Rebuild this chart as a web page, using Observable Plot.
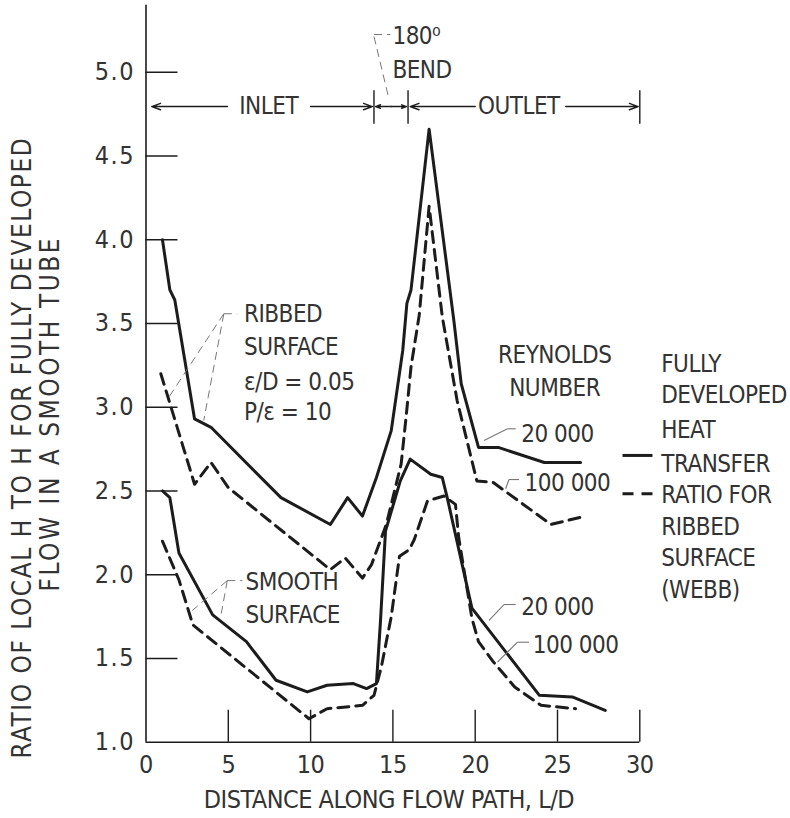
<!DOCTYPE html>
<html><head><meta charset="utf-8">
<script src="https://cdn.jsdelivr.net/npm/d3@7"></script>
<script src="https://cdn.jsdelivr.net/npm/@observablehq/plot@0.6"></script>
<style>
body{margin:0;background:#fff;}
#chart svg{display:block;}
#chart svg text{letter-spacing:-0.5px;}
</style></head><body><div id="chart"></div>
<script>
const FONT = '"Liberation Sans Narrow","DejaVu Sans Condensed","Arial Narrow",sans-serif';
const INK = "#1c1c1c";
const TXT = "#333";

// ---- data series (L/D, ratio) ----
const ribbed20kX = [1.0, 1.45, 1.75, 2.95, 3.95, 8.2, 11.2, 12.25, 13.15, 14.0, 14.9, 15.6, 15.85, 16.1, 17.2, 18.7, 19.15, 20.2, 21.4, 24.2, 26.4];
const ribbed20kY = [4.0, 3.70, 3.64, 2.93, 2.88, 2.46, 2.30, 2.46, 2.35, 2.58, 2.86, 3.34, 3.62, 3.70, 4.66, 3.52, 3.14, 2.76, 2.76, 2.67, 2.67];
const ribbed100kX = [0.9, 2.95, 3.95, 5.0, 11.2, 12.1, 13.15, 13.7, 14.6, 15.5, 15.8, 16.1, 16.6, 17.2, 18.0, 18.9, 20.1, 21.1, 24.6, 26.7];
const ribbed100kY = [3.2, 2.54, 2.67, 2.52, 2.03, 2.10, 1.98, 2.06, 2.30, 2.66, 2.94, 3.24, 3.55, 4.20, 3.54, 3.04, 2.56, 2.55, 2.30, 2.35];
const smooth20kX = [1.0, 1.45, 2.0, 4.05, 6.1, 7.9, 9.8, 11.0, 12.6, 13.4, 14.0, 14.25, 14.55, 15.45, 16.05, 17.3, 18.0, 18.3, 19.8, 23.9, 25.9, 27.9];
const smooth20kY = [2.50, 2.46, 2.13, 1.76, 1.60, 1.37, 1.30, 1.34, 1.35, 1.32, 1.35, 1.73, 2.26, 2.56, 2.69, 2.60, 2.58, 2.46, 1.80, 1.28, 1.27, 1.19];
const smooth100kX = [1.0, 2.0, 2.85, 9.9, 11.0, 13.15, 13.85, 14.3, 14.9, 15.4, 16.0, 16.3, 17.1, 18.1, 18.8, 19.0, 19.3, 19.8, 20.2, 21.1, 22.4, 24.0, 26.1];
const smooth100kY = [2.20, 1.97, 1.70, 1.14, 1.20, 1.22, 1.28, 1.45, 1.75, 2.11, 2.15, 2.21, 2.44, 2.47, 2.42, 2.22, 2.04, 1.74, 1.60, 1.48, 1.33, 1.22, 1.20];

// ---- axes ----
const xTickLabels = [0, 5, 10, 15, 20, 25, 30];
const xTickMarks = [5, 10, 15, 20, 25, 30];
const yTickLabels = [1.0, 1.5, 2.0, 2.5, 3.0, 3.5, 4.0, 4.5, 5.0];
const yTickMarks = [1.5, 2.0, 2.5, 3.0, 3.5, 4.0, 4.5, 5.0];
const xTitle = "DISTANCE ALONG FLOW PATH, L/D";
const yTitle1 = "RATIO OF LOCAL H TO H FOR FULLY DEVELOPED";
const yTitle2 = "FLOW IN A SMOOTH TUBE";

// ---- annotations ----
const centerNoteText = ["INLET", "OUTLET", "REYNOLDS", "NUMBER"];
const centerNoteX = [7.45, 22.65, 24.83, 24.83];
const centerNoteY = [4.795, 4.795, 3.309, 3.112];
const startNoteText = ["180\u2070", "BEND", "RIBBED", "SURFACE", "\u03b5/D = 0.05", "P/\u03b5 = 10", "SMOOTH", "SURFACE", "20 000", "100 000", "20 000", "100 000"];
const startNoteX = [14.97, 14.97, 5.95, 5.95, 5.95, 5.95, 6.05, 6.05, 22.8, 23.0, 22.8, 23.5];
const startNoteY = [5.215, 5.01, 3.557, 3.358, 3.149, 2.97, 1.955, 1.756, 2.84, 2.543, 1.806, 1.577];
const legendText = ["FULLY", "DEVELOPED", "HEAT", "TRANSFER", "RATIO FOR", "RIBBED", "SURFACE", "(WEBB)"];
const legendX = 31.3;
const legendY = [3.258, 3.070, 2.861, 2.662, 2.473, 2.284, 2.095, 1.906];
const legendSampleX = [28.95, 30.77];
const legendSampleY = [2.712, 2.483];

// region arrows (x1 -> x2) at y
const arrowY = 4.795;
const arrowX1 = [4.95, 10.0, 14.9, 14.9, 20.0, 25.5];
const arrowX2 = [0.35, 13.75, 13.95, 15.82, 16.05, 29.9];
const barX = [13.85, 15.92, 30];
const barY = [4.69, 4.89];

// leader lines
const dashedLeaderX1 = [13.85, 13.85, 4.73, 4.73, 4.73, 4.94, 4.94, 4.94];
const dashedLeaderY1 = [5.225, 5.213, 3.558, 3.558, 3.558, 1.965, 1.965, 1.965];
const dashedLeaderX2 = [14.85, 14.74, 5.54, 1.39, 3.51, 5.85, 2.81, 4.57];
const dashedLeaderY2 = [5.225, 4.849, 3.558, 3.06, 2.921, 1.965, 1.786, 1.768];
const solidLeaderX1 = [22.46, 21.96, 22.66, 22.05, 22.46, 21.75, 23.27, 22.57];
const solidLeaderY1 = [2.871, 2.871, 2.568, 2.568, 1.822, 1.822, 1.597, 1.597];
const solidLeaderX2 = [21.96, 20.54, 22.05, 21.85, 21.75, 20.84, 22.57, 21.35];
const solidLeaderY2 = [2.871, 2.801, 2.568, 2.513, 1.822, 1.727, 1.597, 1.478];

// ---- build tables ----
const toRows = (xs, ys, s) => xs.map((x, i) => ({x, y: ys[i], s}));
const solidRows = [...toRows(ribbed20kX, ribbed20kY, "ribbed"), ...toRows(smooth20kX, smooth20kY, "smooth")];
const dashedRows = [...toRows(ribbed100kX, ribbed100kY, "ribbed"), ...toRows(smooth100kX, smooth100kY, "smooth")];
const centerNotes = centerNoteText.map((t, i) => ({t, x: centerNoteX[i], y: centerNoteY[i]}));
const startNotes = startNoteText.map((t, i) => ({t, x: startNoteX[i], y: startNoteY[i]}));
const legendRows = legendText.map((t, i) => ({t, x: legendX, y: legendY[i]}));
const arrows = arrowX1.map((x1, i) => ({x1, x2: arrowX2[i]}));
const segs = (X1, Y1, X2, Y2) => X1.map((x1, i) => ({x1, y1: Y1[i], x2: X2[i], y2: Y2[i]}));
const dashedLeaders = segs(dashedLeaderX1, dashedLeaderY1, dashedLeaderX2, dashedLeaderY2);
const solidLeaders = segs(solidLeaderX1, solidLeaderY1, solidLeaderX2, solidLeaderY2);

const FS = 24;
const chart = Plot.plot({
  width: 790, height: 818,
  marginLeft: 145.5, marginRight: 150.7, marginTop: 4.7, marginBottom: 76.3,
  x: {domain: [0, 30], axis: null},
  y: {domain: [1, 5.4], axis: null},
  style: {fontFamily: FONT, fontSize: FS + "px", color: TXT, background: "#fff", fontStretch: "condensed"},
  marks: [
    Plot.ruleX([0], {y1: 1, y2: 5.4, stroke: INK, strokeWidth: 1.6}),
    Plot.ruleY([1], {x1: 0, x2: 30, stroke: INK, strokeWidth: 1.6}),
    Plot.axisX(xTickMarks, {tickSize: -32, fill: "none", stroke: INK, strokeWidth: 1.4}),
    Plot.axisY(yTickMarks, {tickSize: -32, fill: "none", stroke: INK, strokeWidth: 1.4}),
    Plot.axisX(xTickLabels, {tickSize: 0, tickPadding: 13, fontSize: FS + 1, fill: TXT, tickFormat: d => String(d)}),
    Plot.axisY(yTickLabels, {tickSize: 0, tickPadding: 11, fontSize: FS + 1, fill: TXT, tickFormat: d => d.toFixed(1)}),
    Plot.text([xTitle], {frameAnchor: "bottom", lineAnchor: "middle", dx: -4, dy: 58, fontSize: FS + 1, fill: TXT}),
    Plot.text([yTitle1], {frameAnchor: "left", textAnchor: "middle", lineAnchor: "middle", rotate: -90, dx: -123.5, dy: 74, fontSize: FS + 2, fill: TXT}),
    Plot.text([yTitle2], {frameAnchor: "left", textAnchor: "middle", lineAnchor: "middle", rotate: -90, dx: -95, dy: 40, fontSize: FS + 2, fill: TXT}),
    Plot.line(solidRows, {x: "x", y: "y", z: "s", stroke: INK, strokeWidth: 3, strokeLinejoin: "round"}),
    Plot.line(dashedRows, {x: "x", y: "y", z: "s", stroke: INK, strokeWidth: 3, strokeDasharray: "11,7"}),
    Plot.arrow(arrows, {x1: "x1", x2: "x2", y1: arrowY, y2: arrowY, stroke: INK, strokeWidth: 1.4, headLength: 10, headAngle: 40}),
    Plot.ruleX(barX, {y1: barY[0], y2: barY[1], stroke: INK, strokeWidth: 1.4}),
    Plot.link(dashedLeaders, {x1: "x1", y1: "y1", x2: "x2", y2: "y2", stroke: "#777", strokeWidth: 1, strokeDasharray: "8,5"}),
    Plot.link(solidLeaders, {x1: "x1", y1: "y1", x2: "x2", y2: "y2", stroke: "#777", strokeWidth: 1.1}),
    Plot.text(centerNotes, {x: "x", y: "y", text: "t", textAnchor: "middle", fontSize: FS, fill: TXT}),
    Plot.text(startNotes, {x: "x", y: "y", text: "t", textAnchor: "start", fontSize: FS, fill: TXT}),
    Plot.text(legendRows, {x: "x", y: "y", text: "t", textAnchor: "start", fontSize: FS, fill: TXT}),
    Plot.link([0], {x1: legendSampleX[0], x2: legendSampleX[1], y1: legendSampleY[0], y2: legendSampleY[0], stroke: INK, strokeWidth: 3}),
    Plot.link([0], {x1: legendSampleX[0], x2: legendSampleX[1], y1: legendSampleY[1], y2: legendSampleY[1], stroke: INK, strokeWidth: 3, strokeDasharray: "11,8"})
  ]
});
// letter spacing tweaks to mimic the lettering of the original
d3.select(chart).selectAll("text").each(function () {
  const t = this.textContent;
  if (t === yTitle1) this.style.letterSpacing = "1.5px";
  else if (t === yTitle2) this.style.letterSpacing = "2.5px";
  else if (/^\d\.\d$/.test(t)) this.style.letterSpacing = "1.5px";
});
document.getElementById("chart").appendChild(chart);
</script></body></html>
